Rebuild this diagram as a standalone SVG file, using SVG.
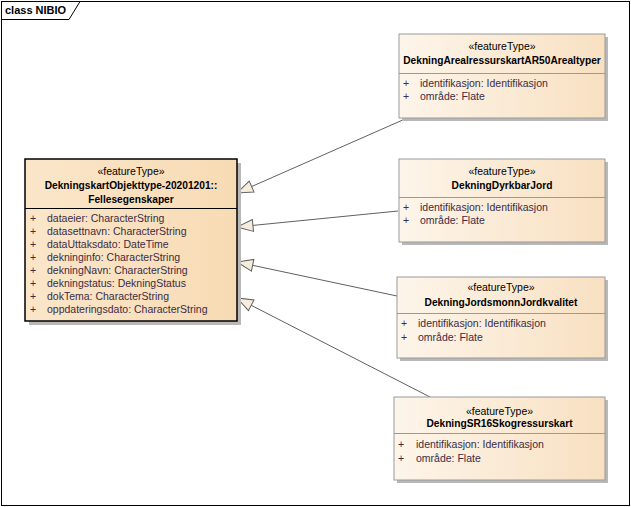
<svg xmlns="http://www.w3.org/2000/svg" width="631" height="507" viewBox="0 0 631 507">
<style>
text{font-family:"Liberation Sans",Arial,sans-serif;font-size:10.5px;fill:#000}
.st{text-anchor:middle}
.nm{text-anchor:middle;font-weight:bold;font-size:10.2px}
.at{fill:#3a2c44}
.pl{fill:#3a2c44}
.box{fill:url(#g1);stroke:#9a9a9a;stroke-width:1}
.main{fill:url(#g2);stroke:#000;stroke-width:1.5}
.sh{fill:#b8b8b8}
.sep{stroke:#9a9a9a;stroke-width:1}
.sepm{stroke:#000;stroke-width:1}
.conn{stroke:#606060;stroke-width:1;fill:none;marker-end:url(#gen)}
</style>
<defs>
<linearGradient id="g1" x1="0" y1="0" x2="1" y2="0">
<stop offset="0" stop-color="#fdf5ea"/>
<stop offset="1" stop-color="#f8e0c1"/>
</linearGradient>
<linearGradient id="g2" x1="0" y1="0" x2="1" y2="0">
<stop offset="0" stop-color="#fbe6ca"/>
<stop offset="1" stop-color="#f7dbb4"/>
</linearGradient>
<marker id="gen" markerUnits="userSpaceOnUse" markerWidth="20" markerHeight="14" refX="17" refY="7" orient="auto">
<path d="M1,1 L17,7 L1,13 z" fill="#f6ecdc" stroke="#606060" stroke-width="1"/>
</marker>
</defs>
<rect x="0" y="0" width="631" height="507" fill="#fff"/>
<rect x="1.5" y="1.5" width="628" height="504" fill="none" stroke="#000" stroke-width="1"/>
<g id="frame-label">
<path d="M1.5,19.5 L69,19.5 L80,1.5" fill="none" stroke="#000" stroke-width="1"/>
<text x="5" y="14" style="font-size:11px;font-weight:bold">class NIBIO</text>
</g>
<g id="connectors">
<line class="conn" x1="405" y1="119" x2="237" y2="193"/>
<line class="conn" x1="398" y1="211" x2="237" y2="227"/>
<line class="conn" x1="397" y1="296" x2="237" y2="262"/>
<line class="conn" x1="430" y1="397" x2="237" y2="298"/>
</g>
<g id="Fellesegenskaper">
<rect class="sh" x="29" y="163" width="212" height="162"/>
<rect class="main" x="25" y="159" width="212" height="162"/>
<line class="sepm" x1="25" y1="208.5" x2="237" y2="208.5"/>
<text class="st" x="131" y="175">«featureType»</text>
<text class="nm" x="131" y="189">DekningskartObjekttype-20201201::</text>
<text class="nm" x="131" y="203">Fellesegenskaper</text>
<text class="pl" x="30" y="222">+</text><text class="at" x="47" y="222">dataeier: CharacterString</text>
<text class="pl" x="30" y="235">+</text><text class="at" x="47" y="235">datasettnavn: CharacterString</text>
<text class="pl" x="30" y="248">+</text><text class="at" x="47" y="248">dataUttaksdato: DateTime</text>
<text class="pl" x="30" y="261">+</text><text class="at" x="47" y="261">dekninginfo: CharacterString</text>
<text class="pl" x="30" y="274">+</text><text class="at" x="47" y="274">dekningNavn: CharacterString</text>
<text class="pl" x="30" y="287">+</text><text class="at" x="47" y="287">dekningstatus: DekningStatus</text>
<text class="pl" x="30" y="300">+</text><text class="at" x="47" y="300">dokTema: CharacterString</text>
<text class="pl" x="30" y="313">+</text><text class="at" x="47" y="313">oppdateringsdato: CharacterString</text>
</g>
<g id="AR50">
<rect class="sh" x="402" y="37" width="206" height="84"/>
<rect class="box" x="399" y="34" width="206" height="84"/>
<line class="sep" x1="399" y1="73.5" x2="605" y2="73.5"/>
<text class="st" x="502" y="50">«featureType»</text>
<text class="nm" x="502" y="64">DekningArealressurskartAR50Arealtyper</text>
<text class="pl" x="403" y="87">+</text><text class="at" x="420" y="87">identifikasjon: Identifikasjon</text>
<text class="pl" x="403" y="100">+</text><text class="at" x="420" y="100">område: Flate</text>
</g>
<g id="DyrkbarJord">
<rect class="sh" x="402" y="162" width="206" height="83"/>
<rect class="box" x="399" y="159" width="206" height="83"/>
<line class="sep" x1="399" y1="197.5" x2="605" y2="197.5"/>
<text class="st" x="502" y="175">«featureType»</text>
<text class="nm" x="502" y="189">DekningDyrkbarJord</text>
<text class="pl" x="403" y="211">+</text><text class="at" x="420" y="211">identifikasjon: Identifikasjon</text>
<text class="pl" x="403" y="224">+</text><text class="at" x="420" y="224">område: Flate</text>
</g>
<g id="Jordkvalitet">
<rect class="sh" x="400" y="280" width="208" height="81"/>
<rect class="box" x="397" y="277" width="208" height="81"/>
<line class="sep" x1="397" y1="313.5" x2="605" y2="313.5"/>
<text class="st" x="501" y="291">«featureType»</text>
<text class="nm" x="501" y="306">DekningJordsmonnJordkvalitet</text>
<text class="pl" x="401" y="327">+</text><text class="at" x="418" y="327">identifikasjon: Identifikasjon</text>
<text class="pl" x="401" y="341">+</text><text class="at" x="418" y="341">område: Flate</text>
</g>
<g id="SR16">
<rect class="sh" x="397" y="400" width="211" height="83"/>
<rect class="box" x="394" y="397" width="211" height="83"/>
<line class="sep" x1="394" y1="433.5" x2="605" y2="433.5"/>
<text class="st" x="499.5" y="415">«featureType»</text>
<text class="nm" x="499.5" y="427">DekningSR16Skogressurskart</text>
<text class="pl" x="398" y="448">+</text><text class="at" x="416" y="448">identifikasjon: Identifikasjon</text>
<text class="pl" x="398" y="462">+</text><text class="at" x="416" y="462">område: Flate</text>
</g>
</svg>
